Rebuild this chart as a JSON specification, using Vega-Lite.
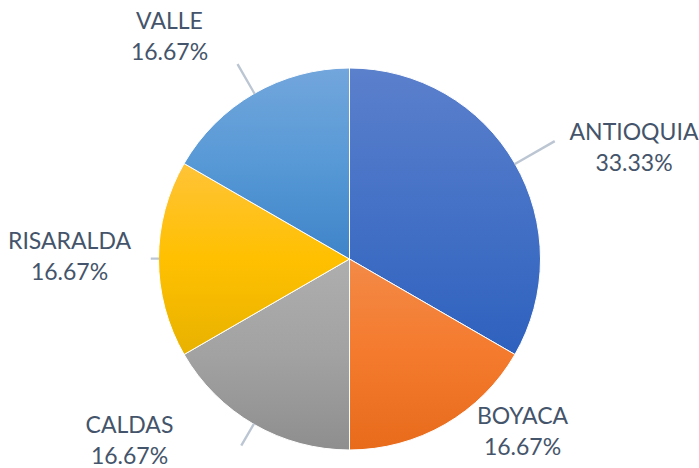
{
  "$schema": "https://vega.github.io/schema/vega-lite/v6.json",
  "width": 699,
  "height": 418,
  "padding": {"top": 50, "left": 0, "right": 0, "bottom": 0},
  "autosize": {"type": "none"},
  "background": "#ffffff",
  "config": {"view": {"stroke": null}},
  "data": {
    "values": [
      {"dept": "ANTIOQUIA", "n": 2},
      {"dept": "BOYACA", "n": 1},
      {"dept": "CALDAS", "n": 1},
      {"dept": "RISARALDA", "n": 1},
      {"dept": "VALLE", "n": 1}
    ]
  },
  "transform": [
    {"joinaggregate": [{"op": "sum", "field": "n", "as": "total"}]},
    {"stack": "n", "groupby": [], "sort": [{"field": "dept"}], "as": ["t0", "t1"]},
    {"calculate": "(datum.t0 + datum.t1) / 2", "as": "mid"},
    {"calculate": "(datum.t0 + datum.t1) / 2 + 0.004", "as": "mid2"},
    {"calculate": "[datum.dept, format(datum.n / datum.total, '.2%')]", "as": "label"}
  ],
  "encoding": {
    "theta": {"field": "t0", "type": "quantitative", "scale": {"domain": [0, 6]}}
  },
  "layer": [
    {
      "transform": [{"filter": "datum.dept === 'ANTIOQUIA'"}],
      "mark": {"type": "arc", "outerRadius": 191, "stroke": "#ffffff", "strokeWidth": 1,
        "fill": {"gradient": "linear", "x1": 0, "y1": 0, "x2": 0, "y2": 1,
          "stops": [{"offset": 0, "color": "#5B80CC"}, {"offset": 0.5, "color": "#4471C6"}, {"offset": 1, "color": "#2E61BE"}]}},
      "encoding": {"theta": {"field": "t0", "type": "quantitative"}, "theta2": {"field": "t1"}}
    },
    {
      "transform": [{"filter": "datum.dept === 'BOYACA'"}],
      "mark": {"type": "arc", "outerRadius": 191, "stroke": "#ffffff", "strokeWidth": 1,
        "fill": {"gradient": "linear", "x1": 0, "y1": 0, "x2": 0, "y2": 1,
          "stops": [{"offset": 0, "color": "#F38A47"}, {"offset": 0.5, "color": "#F47A2D"}, {"offset": 1, "color": "#E86B1B"}]}},
      "encoding": {"theta": {"field": "t0", "type": "quantitative"}, "theta2": {"field": "t1"}}
    },
    {
      "transform": [{"filter": "datum.dept === 'CALDAS'"}],
      "mark": {"type": "arc", "outerRadius": 191, "stroke": "#ffffff", "strokeWidth": 1,
        "fill": {"gradient": "linear", "x1": 0, "y1": 0, "x2": 0, "y2": 1,
          "stops": [{"offset": 0, "color": "#AEAEAE"}, {"offset": 0.5, "color": "#A2A2A2"}, {"offset": 1, "color": "#8E8E8E"}]}},
      "encoding": {"theta": {"field": "t0", "type": "quantitative"}, "theta2": {"field": "t1"}}
    },
    {
      "transform": [{"filter": "datum.dept === 'RISARALDA'"}],
      "mark": {"type": "arc", "outerRadius": 191, "stroke": "#ffffff", "strokeWidth": 1,
        "fill": {"gradient": "linear", "x1": 0, "y1": 0, "x2": 0, "y2": 1,
          "stops": [{"offset": 0, "color": "#FFC338"}, {"offset": 0.5, "color": "#FFC000"}, {"offset": 1, "color": "#E8B200"}]}},
      "encoding": {"theta": {"field": "t0", "type": "quantitative"}, "theta2": {"field": "t1"}}
    },
    {
      "transform": [{"filter": "datum.dept === 'VALLE'"}],
      "mark": {"type": "arc", "outerRadius": 191, "stroke": "#ffffff", "strokeWidth": 1,
        "fill": {"gradient": "linear", "x1": 0, "y1": 0, "x2": 0, "y2": 1,
          "stops": [{"offset": 0, "color": "#72A6DC"}, {"offset": 0.5, "color": "#5799D6"}, {"offset": 1, "color": "#3F84C9"}]}},
      "encoding": {"theta": {"field": "t0", "type": "quantitative"}, "theta2": {"field": "t1"}}
    },
    {
      "transform": [{"filter": "datum.dept === 'ANTIOQUIA'"}],
      "mark": {"type": "arc", "innerRadius": 191, "outerRadius": 236, "fill": null, "stroke": "#BCC6D3", "strokeWidth": 1.5},
      "encoding": {"theta": {"field": "mid", "type": "quantitative"}, "theta2": {"field": "mid2"}}
    },
    {
      "transform": [{"filter": "datum.dept === 'VALLE'"}],
      "mark": {"type": "arc", "innerRadius": 191, "outerRadius": 224, "fill": null, "stroke": "#BCC6D3", "strokeWidth": 1.5},
      "encoding": {"theta": {"field": "mid", "type": "quantitative"}, "theta2": {"field": "mid2"}}
    },
    {
      "transform": [{"filter": "datum.dept === 'RISARALDA'"}],
      "mark": {"type": "arc", "innerRadius": 191, "outerRadius": 198, "fill": null, "stroke": "#BCC6D3", "strokeWidth": 1.5},
      "encoding": {"theta": {"field": "mid", "type": "quantitative"}, "theta2": {"field": "mid2"}}
    },
    {
      "transform": [{"filter": "datum.dept === 'CALDAS'"}],
      "mark": {"type": "arc", "innerRadius": 191, "outerRadius": 215, "fill": null, "stroke": "#BCC6D3", "strokeWidth": 1.5},
      "encoding": {"theta": {"field": "mid", "type": "quantitative"}, "theta2": {"field": "mid2"}}
    },
    {
      "transform": [{"filter": "datum.dept === 'ANTIOQUIA'"}],
      "mark": {"type": "text", "radius": 250, "dx": 68, "dy": -1.5, "font": "Lato", "fontSize": 23, "lineHeight": 31, "fill": "#44546A", "align": "center", "baseline": "middle"},
      "encoding": {"theta": {"field": "mid", "type": "quantitative"}, "text": {"field": "label"}}
    },
    {
      "transform": [{"filter": "datum.dept === 'BOYACA'"}],
      "mark": {"type": "text", "radius": 250, "dx": 48, "dy": -58.5, "font": "Lato", "fontSize": 23, "lineHeight": 31, "fill": "#44546A", "align": "center", "baseline": "middle"},
      "encoding": {"theta": {"field": "mid", "type": "quantitative"}, "text": {"field": "label"}}
    },
    {
      "transform": [{"filter": "datum.dept === 'CALDAS'"}],
      "mark": {"type": "text", "radius": 250, "dx": -95, "dy": -49.5, "font": "Lato", "fontSize": 23, "lineHeight": 31, "fill": "#44546A", "align": "center", "baseline": "middle"},
      "encoding": {"theta": {"field": "mid", "type": "quantitative"}, "text": {"field": "label"}}
    },
    {
      "transform": [{"filter": "datum.dept === 'RISARALDA'"}],
      "mark": {"type": "text", "radius": 250, "dx": -30, "dy": -17.5, "font": "Lato", "fontSize": 23, "lineHeight": 31, "fill": "#44546A", "align": "center", "baseline": "middle"},
      "encoding": {"theta": {"field": "mid", "type": "quantitative"}, "text": {"field": "label"}}
    },
    {
      "transform": [{"filter": "datum.dept === 'VALLE'"}],
      "mark": {"type": "text", "radius": 250, "dx": -55, "dy": -20.5, "font": "Lato", "fontSize": 23, "lineHeight": 31, "fill": "#44546A", "align": "center", "baseline": "middle"},
      "encoding": {"theta": {"field": "mid", "type": "quantitative"}, "text": {"field": "label"}}
    }
  ]
}
